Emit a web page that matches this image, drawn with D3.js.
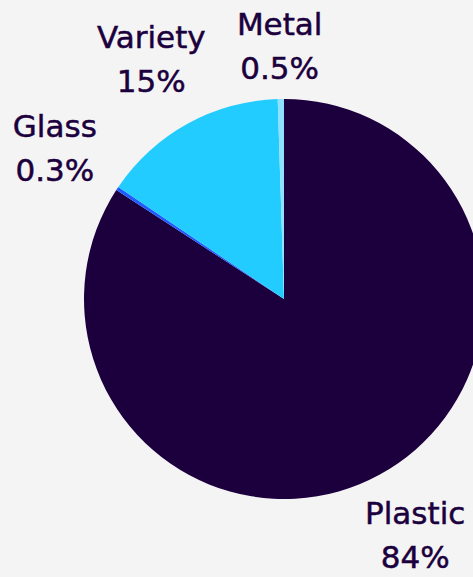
<!DOCTYPE html>
<html>
<head>
<meta charset="utf-8">
<script src="https://cdn.jsdelivr.net/npm/d3@7"></script>
<style>
  html, body { margin: 0; padding: 0; background: #f4f4f4; }
  svg { display: block; }
</style>
</head>
<body>
<script>
var w = 473;
var h = 577;

// slices, clockwise from 12 o'clock
var materials = ['Plastic', 'Glass', 'Variety', 'Metal'];
var shares = [84, 0.3, 15, 0.5];
var shareLabels = ['84%', '0.3%', '15%', '0.5%'];
var colors = ['#1b003d', '#1f5cff', '#22ccff', '#8fe1ff'];

var data = materials.map(function(m, i) {
    return { name: m, value: shares[i], label: shareLabels[i], color: colors[i] };
});

var cx = 284, cy = 299, r = 200;
var labelR = 275;
var lineGap = 44;

var svg = d3.select('body').append('svg')
    .attr('width', w).attr('height', h);

svg.append('rect').attr('width', w).attr('height', h).attr('fill', '#f4f4f4');

var pie = d3.pie().sort(null).value(function(d) { return d.value; });
var arc = d3.arc().innerRadius(0).outerRadius(r);

var g = svg.append('g').attr('transform', 'translate(' + cx + ',' + cy + ')');

var arcs = pie(data);

g.selectAll('path')
    .data(arcs).enter()
    .append('path')
    .attr('d', arc)
    .attr('fill', function(d) { return d.data.color; });

// labels: two lines, centred on a point outside the pie, kept inside the svg
function labelPos(d) {
    var a = (d.startAngle + d.endAngle) / 2;
    var x = labelR * Math.sin(a);
    var y = -labelR * Math.cos(a);
    y = Math.max(y, 45 - cy);
    y = Math.min(y, h - 43 - cy);
    return [x, y];
}

var labels = g.selectAll('text')
    .data(arcs).enter()
    .append('text')
    .attr('text-anchor', 'middle')
    .attr('font-family', 'DejaVu Sans, sans-serif')
    .attr('font-size', '31px')
    .attr('fill', '#1b003d')
    .attr('stroke', '#1b003d')
    .attr('stroke-width', 0.5);

labels.append('tspan')
    .attr('x', function(d) { return labelPos(d)[0]; })
    .attr('y', function(d) { return labelPos(d)[1] - 10.5; })
    .text(function(d) { return d.data.name; });

labels.append('tspan')
    .attr('x', function(d) { return labelPos(d)[0]; })
    .attr('y', function(d) { return labelPos(d)[1] - 10.5 + lineGap; })
    .text(function(d) { return d.data.label; });
</script>
</body>
</html>
